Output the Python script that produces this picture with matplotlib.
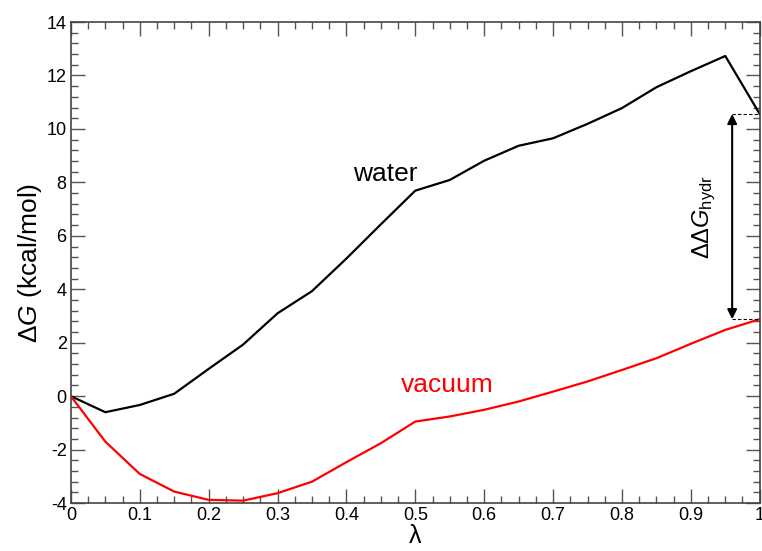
import numpy as np
import matplotlib
matplotlib.use("Agg")
import matplotlib.pyplot as plt
from matplotlib.ticker import MultipleLocator

# lambda windows
lam = [0.0, 0.05, 0.1, 0.15, 0.2, 0.25, 0.3, 0.35, 0.4, 0.45, 0.5,
       0.55, 0.6, 0.65, 0.7, 0.75, 0.8, 0.85, 0.9, 0.95, 1.0]

# free energy along lambda (kcal/mol)
dg_water = [0.0, -0.6, -0.33, 0.09, 1.02, 1.93, 3.1, 3.93, 5.15, 6.43, 7.69,
            8.09, 8.81, 9.37, 9.65, 10.19, 10.78, 11.56, 12.16, 12.73, 10.56]
dg_vacuum = [0.0, -1.7, -2.91, -3.57, -3.88, -3.91, -3.63, -3.2, -2.47, -1.76, -0.95,
             -0.76, -0.51, -0.2, 0.17, 0.55, 0.98, 1.42, 1.96, 2.48, 2.88]

plt.rcParams['font.family'] = ['Liberation Sans', 'DejaVu Sans']
plt.rcParams['mathtext.fontset'] = 'custom'
plt.rcParams['mathtext.rm'] = 'Liberation Sans'
plt.rcParams['mathtext.it'] = 'Liberation Sans:italic'
plt.rcParams['axes.unicode_minus'] = False

fig = plt.figure(figsize=(7.62, 5.51), dpi=100)
ax = fig.add_axes([0.093, 0.087, 0.904, 0.873])

ax.plot(lam, dg_water, color='black', lw=1.6)
ax.plot(lam, dg_vacuum, color='red', lw=1.6)

ax.set_xlim(0, 1)
ax.set_ylim(-4, 14)
ax.xaxis.set_minor_locator(MultipleLocator(0.025))
ax.yaxis.set_major_locator(MultipleLocator(2))
ax.yaxis.set_minor_locator(MultipleLocator(0.4))
ax.set_xticks(np.arange(0, 1.01, 0.1))
ax.set_xticklabels(['0', '0.1', '0.2', '0.3', '0.4', '0.5', '0.6', '0.7', '0.8', '0.9', '1'])

ax.tick_params(which='both', direction='in', top=True, right=True, color='#555555',
               labelsize=13, pad=3)
ax.tick_params(which='major', length=10, width=1)
ax.tick_params(which='minor', length=5, width=1)
for s in ax.spines.values():
    s.set_color('#444444')
    s.set_linewidth(1.2)

ax.set_xlabel('λ', fontsize=18, labelpad=0)
ax.set_ylabel(r'$\Delta G$ (kcal/mol)', fontsize=19, labelpad=2)

ax.text(0.456, 8.33, 'water', fontsize=19, ha='center', va='center', color='black')
ax.text(0.546, 0.42, 'vacuum', fontsize=19, ha='center', va='center', color='red')

# hydration free energy difference
x_arr = 0.96
ax.plot([x_arr, 1.0], [dg_water[-1], dg_water[-1]], ls='--', color='black', lw=0.8,
        dashes=(3, 2))
ax.plot([x_arr, 1.0], [dg_vacuum[-1], dg_vacuum[-1]], ls='--', color='black', lw=0.8,
        dashes=(3, 2))
ax.annotate('', xy=(x_arr, dg_water[-1]), xytext=(x_arr, dg_vacuum[-1]),
            arrowprops=dict(arrowstyle='<|-|>', color='black', lw=1.5,
                            mutation_scale=14, shrinkA=0, shrinkB=0))
ax.text(0.92, 6.7, r'$\Delta\Delta G_{\mathrm{hydr}}$', fontsize=17, rotation=90,
        ha='center', va='center')

fig.savefig('out.png', dpi=100)
